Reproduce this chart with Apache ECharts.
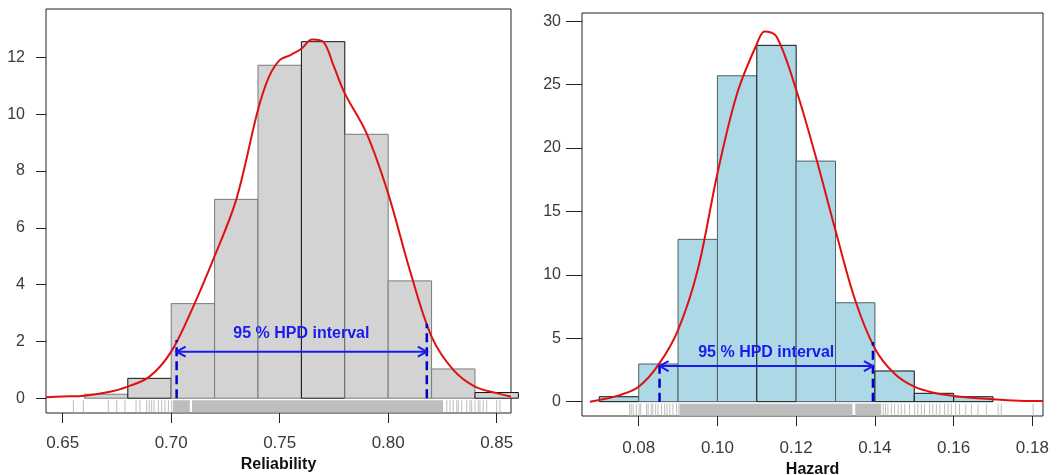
<!DOCTYPE html>
<html>
<head>
<meta charset="utf-8">
<title>Posterior histograms</title>
<script src="https://cdn.jsdelivr.net/npm/echarts@6/dist/echarts.min.js"></script>
<style>
  html, body { margin: 0; padding: 0; background: #fff; }
  #chart { width: 1063px; height: 475px; }
</style>
</head>
<body>
<div id="chart"></div>
<script>
// --- Reliability panel ---
const relBreaks = [0.66, 0.68, 0.70, 0.72, 0.74, 0.76, 0.78, 0.80, 0.82, 0.84, 0.86];
const relHeights = [0.14, 0.70, 3.33, 7.0, 11.72, 12.55, 9.29, 4.13, 1.03, 0.2];
const relCurveX = [0.6423, 0.65, 0.66, 0.67, 0.68, 0.69, 0.70, 0.71, 0.72, 0.73, 0.74, 0.745, 0.75, 0.755, 0.76, 0.765, 0.77, 0.775, 0.78, 0.79, 0.80, 0.81, 0.82, 0.83, 0.84, 0.85, 0.8566];
const relCurveY = [0.035, 0.06, 0.09, 0.2, 0.41, 0.76, 1.64, 3.2, 5.0, 7.0, 10.15, 11.3, 11.9, 12.08, 12.3, 12.63, 12.55, 11.67, 10.73, 9.33, 7.2, 4.5, 2.17, 1.0, 0.41, 0.18, 0.06];
const relHpd = [0.7025, 0.8178];
const relHpdTop = [2.05, 2.62];
const relArrowY = 1.64;
const relTextPos = [0.760, 2.29];
const relRug = [0.6549, 0.6595, 0.6710, 0.6749, 0.6787, 0.6838, 0.6856, 0.6887, 0.6899, 0.6910, 0.6921,
  0.6941, 0.6956, 0.6971, 0.6987, 0.7002, 0.8270, 0.8285, 0.8300, 0.8316, 0.8323, 0.8339, 0.8362,
  0.8377, 0.8385, 0.8400, 0.8415, 0.8423, 0.8438, 0.8454, 0.8500, 0.8515];
const relRugBands = [[0.7008, 0.7086], [0.7096, 0.8253]];
const relXTicks = [0.65, 0.70, 0.75, 0.80, 0.85];
const relYTicks = [0, 2, 4, 6, 8, 10, 12];

// --- Hazard panel ---
const hazBreaks = [0.07, 0.08, 0.09, 0.10, 0.11, 0.12, 0.13, 0.14, 0.15, 0.16, 0.17];
const hazHeights = [0.39, 2.97, 12.8, 25.7, 28.1, 18.97, 7.8, 2.42, 0.66, 0.39];
const hazCurveX = [0.0676, 0.07, 0.075, 0.08, 0.085, 0.09, 0.095, 0.10, 0.105, 0.11, 0.112, 0.115, 0.12, 0.125, 0.13, 0.135, 0.14, 0.145, 0.15, 0.155, 0.16, 0.165, 0.17, 0.175, 0.18, 0.1827];
const hazCurveY = [0.0, 0.13, 0.5, 1.18, 2.9, 5.65, 10.4, 18.0, 24.3, 28.2, 29.2, 28.8, 24.6, 19.3, 13.5, 8.0, 4.2, 2.2, 1.18, 0.7, 0.45, 0.29, 0.2, 0.1, 0.05, 0.05];
const hazHpd = [0.0853, 0.1395];
const hazHpdTop = [3.15, 4.7];
const hazArrowY = 2.81;
const hazTextPos = [0.1124, 3.86];
const hazRug = [0.0777, 0.0781, 0.0786, 0.0794, 0.0801, 0.0805, 0.0820, 0.0824, 0.0832, 0.0836, 0.0843,
  0.0849, 0.0858, 0.0866, 0.0872, 0.0879, 0.0887, 0.0896, 0.0902, 0.1421, 0.1427, 0.1433, 0.1442,
  0.1450, 0.1459, 0.1467, 0.1476, 0.1488, 0.1501, 0.1509, 0.1518, 0.1526, 0.1539, 0.1547, 0.1556,
  0.1565, 0.1577, 0.1586, 0.1594, 0.1605, 0.1615, 0.1631, 0.1645, 0.1662, 0.1683, 0.1713, 0.1721, 0.1802];
const hazRugBands = [[0.0904, 0.1343], [0.1350, 0.1416]];
const hazXTicks = [0.08, 0.10, 0.12, 0.14, 0.16, 0.18];
const hazYTicks = [0, 5, 10, 15, 20, 25, 30];

const hpdLabel = '95 % HPD interval';
const FONT = '"Liberation Sans", Arial, Helvetica, sans-serif';

const chart = echarts.init(document.getElementById('chart'));

const histSeries = (idx, breaks, heights, fill, edge, darkBars) => ({
  type: 'custom',
  xAxisIndex: idx, yAxisIndex: idx,
  data: heights.map((h, i) => [breaks[i], breaks[i + 1], h]),
  encode: { x: [0, 1], y: 2 },
  renderItem: (params, api) => {
    const a = api.coord([api.value(0), api.value(2)]);
    const b = api.coord([api.value(1), 0]);
    return {
      type: 'rect',
      shape: { x: a[0], y: a[1], width: b[0] - a[0], height: b[1] - a[1] },
      style: { fill: fill, stroke: darkBars.includes(params.dataIndex) ? '#111' : edge, lineWidth: 1 }
    };
  },
  silent: true, z: 2
});

const curveSeries = (idx, xs, ys) => ({
  type: 'line',
  xAxisIndex: idx, yAxisIndex: idx,
  data: xs.map((x, i) => [x, ys[i]]),
  smooth: 0.35,
  showSymbol: false,
  lineStyle: { color: '#e01010', width: 2 },
  silent: true, z: 4
});

const hpdLineSeries = (idx, x, top) => ({
  type: 'line',
  xAxisIndex: idx, yAxisIndex: idx,
  data: [[x, 0], [x, top]],
  showSymbol: false,
  lineStyle: { color: '#0000cc', width: 2.5, type: [9, 5] },
  silent: true, z: 5
});

const arrowSeries = (idx, hpd, y) => ({
  type: 'custom',
  xAxisIndex: idx, yAxisIndex: idx,
  data: [[hpd[0], hpd[1], y]],
  renderItem: (params, api) => {
    const p = api.coord([api.value(0), api.value(2)]);
    const q = api.coord([api.value(1), api.value(2)]);
    const st = { stroke: '#1a1aee', lineWidth: 2, fill: 'none' };
    return {
      type: 'group',
      children: [
        { type: 'line', shape: { x1: p[0], y1: p[1], x2: q[0], y2: q[1] }, style: st },
        { type: 'polyline', shape: { points: [[p[0] + 9, p[1] - 5], [p[0], p[1]], [p[0] + 9, p[1] + 5]] }, style: st },
        { type: 'polyline', shape: { points: [[q[0] - 9, q[1] - 5], [q[0], q[1]], [q[0] - 9, q[1] + 5]] }, style: st }
      ]
    };
  },
  silent: true, z: 6
});

const textSeries = (idx, pos) => ({
  type: 'custom',
  xAxisIndex: idx, yAxisIndex: idx,
  data: [pos],
  renderItem: (params, api) => {
    const p = api.coord([api.value(0), api.value(1)]);
    return {
      type: 'text',
      style: {
        text: hpdLabel, x: p[0], y: p[1],
        fill: '#1a1aee', font: 'bold 16px ' + FONT,
        align: 'center', verticalAlign: 'middle'
      }
    };
  },
  silent: true, z: 7
});

const rugSeries = (idx, vals) => ({
  type: 'custom',
  xAxisIndex: idx, yAxisIndex: idx,
  data: vals.map(v => [v, 0]),
  renderItem: (params, api) => {
    const p = api.coord([api.value(0), 0]);
    return {
      type: 'line',
      shape: { x1: p[0], y1: p[1] + 2, x2: p[0], y2: p[1] + 14 },
      style: { stroke: '#bdbdbd', lineWidth: 1 }
    };
  },
  silent: true, z: 3
});

const rugBandSeries = (idx, bands) => ({
  type: 'custom',
  xAxisIndex: idx, yAxisIndex: idx,
  data: bands.map(b => [b[0], b[1], 0]),
  renderItem: (params, api) => {
    const a = api.coord([api.value(0), 0]);
    const b = api.coord([api.value(1), 0]);
    return {
      type: 'rect',
      shape: { x: a[0], y: a[1] + 2, width: b[0] - a[0], height: 12 },
      style: { fill: '#bdbdbd' }
    };
  },
  silent: true, z: 3
});

const xAxisCfg = (idx, min, max, ticks, name, gap, margin) => ({
  type: 'value', gridIndex: idx, min: min, max: max,
  name: name, nameLocation: 'middle', nameGap: gap,
  nameTextStyle: { fontFamily: FONT, fontWeight: 'bold', fontSize: 16, color: '#111' },
  axisLine: { show: false, onZero: false },
  axisTick: { show: true, customValues: ticks, length: 10, inside: false, lineStyle: { color: '#222' } },
  axisLabel: {
    customValues: ticks, margin: margin, fontFamily: FONT, fontSize: 17, color: '#3a3a3a',
    formatter: v => v.toFixed(2)
  },
  splitLine: { show: false }
});

const yAxisCfg = (idx, min, max, ticks, tickLen) => ({
  type: 'value', gridIndex: idx, min: min, max: max,
  axisLine: { show: false, onZero: false },
  axisTick: { show: true, customValues: ticks, length: tickLen, inside: false, lineStyle: { color: '#222' } },
  axisLabel: {
    customValues: ticks, margin: 21, fontFamily: FONT, fontSize: 16, color: '#3a3a3a',
    formatter: v => String(v)
  },
  splitLine: { show: false }
});

chart.setOption({
  animation: false,
  backgroundColor: '#fff',
  grid: [
    { left: 46, top: 9, width: 465, height: 404, outerBoundsMode: 'none', show: true, borderColor: '#222', borderWidth: 1, backgroundColor: 'transparent' },
    { left: 582, top: 13, width: 461, height: 403, outerBoundsMode: 'none', show: true, borderColor: '#222', borderWidth: 1, backgroundColor: 'transparent' }
  ],
  xAxis: [
    xAxisCfg(0, 0.6423, 0.8566, relXTicks, 'Reliability', 42, 22),
    xAxisCfg(1, 0.0656, 0.1827, hazXTicks, 'Hazard', 43, 24)
  ],
  yAxis: [
    yAxisCfg(0, -0.52, 13.70, relYTicks, 10),
    yAxisCfg(1, -1.13, 30.65, hazYTicks, 16)
  ],
  series: [
    histSeries(0, relBreaks, relHeights, '#d3d3d3', '#7a7a7a', [1, 5, 9]),
    rugSeries(0, relRug),
    rugBandSeries(0, relRugBands),
    curveSeries(0, relCurveX, relCurveY),
    hpdLineSeries(0, relHpd[0], relHpdTop[0]),
    hpdLineSeries(0, relHpd[1], relHpdTop[1]),
    arrowSeries(0, relHpd, relArrowY),
    textSeries(0, relTextPos),

    histSeries(1, hazBreaks, hazHeights, '#add8e6', '#4f5f66', [0, 4, 7, 8, 9]),
    rugSeries(1, hazRug),
    rugBandSeries(1, hazRugBands),
    curveSeries(1, hazCurveX, hazCurveY),
    hpdLineSeries(1, hazHpd[0], hazHpdTop[0]),
    hpdLineSeries(1, hazHpd[1], hazHpdTop[1]),
    arrowSeries(1, hazHpd, hazArrowY),
    textSeries(1, hazTextPos)
  ]
});
</script>
</body>
</html>
